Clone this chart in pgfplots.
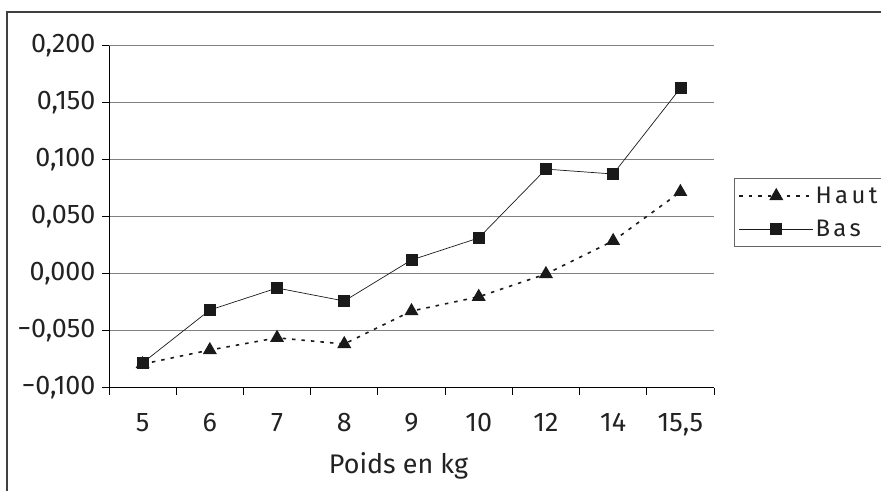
\documentclass[border=0pt]{standalone}
\usepackage{fontspec}
\setmainfont{Fira Sans}
\usepackage{pgfplots}
\pgfplotsset{compat=1.18}
\definecolor{ink}{HTML}{1A1A1A}
\definecolor{txt}{HTML}{222222}
\newcommand{\bigf}{\fontsize{27}{31}\selectfont}
\newcommand{\legf}{\fontsize{24}{27}\selectfont\addfontfeatures{LetterSpace=14}}
\begin{document}
\begin{tikzpicture}[x=1bp,y=1bp]
\useasboundingbox (0,0) rectangle (881,491);
\draw[line width=1.6bp, black!75] (7,-2) -- (7,479) -- (883,479);
\begin{axis}[
  at={(109bp,103bp)}, anchor=south west,
  scale only axis, width=605bp, height=342bp,
  xmin=-0.5, xmax=8.5, ymin=-0.1, ymax=0.2,
  axis x line=bottom, axis y line=left,
  axis line style={-, black, line width=1bp},
  tick align=outside, major tick length=7bp,
  tick style={black, line width=1bp},
  xtick={-0.5,0.5,1.5,2.5,3.5,4.5,5.5,6.5,7.5,8.5},
  x tick label as interval,
  xticklabels={5,6,7,8,9,10,12,14,{15,5}},
  ytick={-0.1,-0.05,0,0.05,0.1,0.15,0.2},
  yticklabels={{−0,100},{−0,050},{0,000},{0,050},{0,100},{0,150},{0,200}},
  ymajorgrids, major grid style={gray, line width=1bp},
  every tick label/.append style={font=\bigf, text=txt},
  y tick label style={xshift=-3bp},
  x tick label style={yshift=-15bp},
  xlabel={Poids en kg},
  xlabel style={font=\bigf, text=txt, yshift=-10bp, xshift=-13bp},
  clip=false,
  legend style={at={(1.033,0.614)}, anchor=north west, draw=black!60, line width=1bp,
    font=\legf, text=txt, inner xsep=4bp, inner ysep=7bp, row sep=12bp,
    nodes={inner sep=1.5bp}},
  legend cell align=left,
  legend image code/.code={\draw[mark repeat=2,mark phase=2,#1] plot coordinates {(0bp,0bp) (37bp,0bp) (74bp,0bp)};},
]
\addplot[ink, line width=1.6bp, dash pattern=on 3.5bp off 6bp, mark=triangle*, mark size=6.5bp, mark options={solid, fill=ink, draw=ink}]
  coordinates {(0,-0.079) (1,-0.0667) (2,-0.056) (3,-0.0614) (4,-0.0325) (5,-0.020) (6,0.000) (7,0.029) (8,0.072)};
\addlegendentry{Haut}
\addplot[ink, line width=0.7bp, mark=square*, mark size=5.5bp, mark options={solid, fill=ink, draw=ink}]
  coordinates {(0,-0.078) (1,-0.0316) (2,-0.0123) (3,-0.0237) (4,0.0123) (5,0.0316) (6,0.092) (7,0.0877) (8,0.163)};
\addlegendentry{Bas}
\end{axis}
\end{tikzpicture}
\end{document}
